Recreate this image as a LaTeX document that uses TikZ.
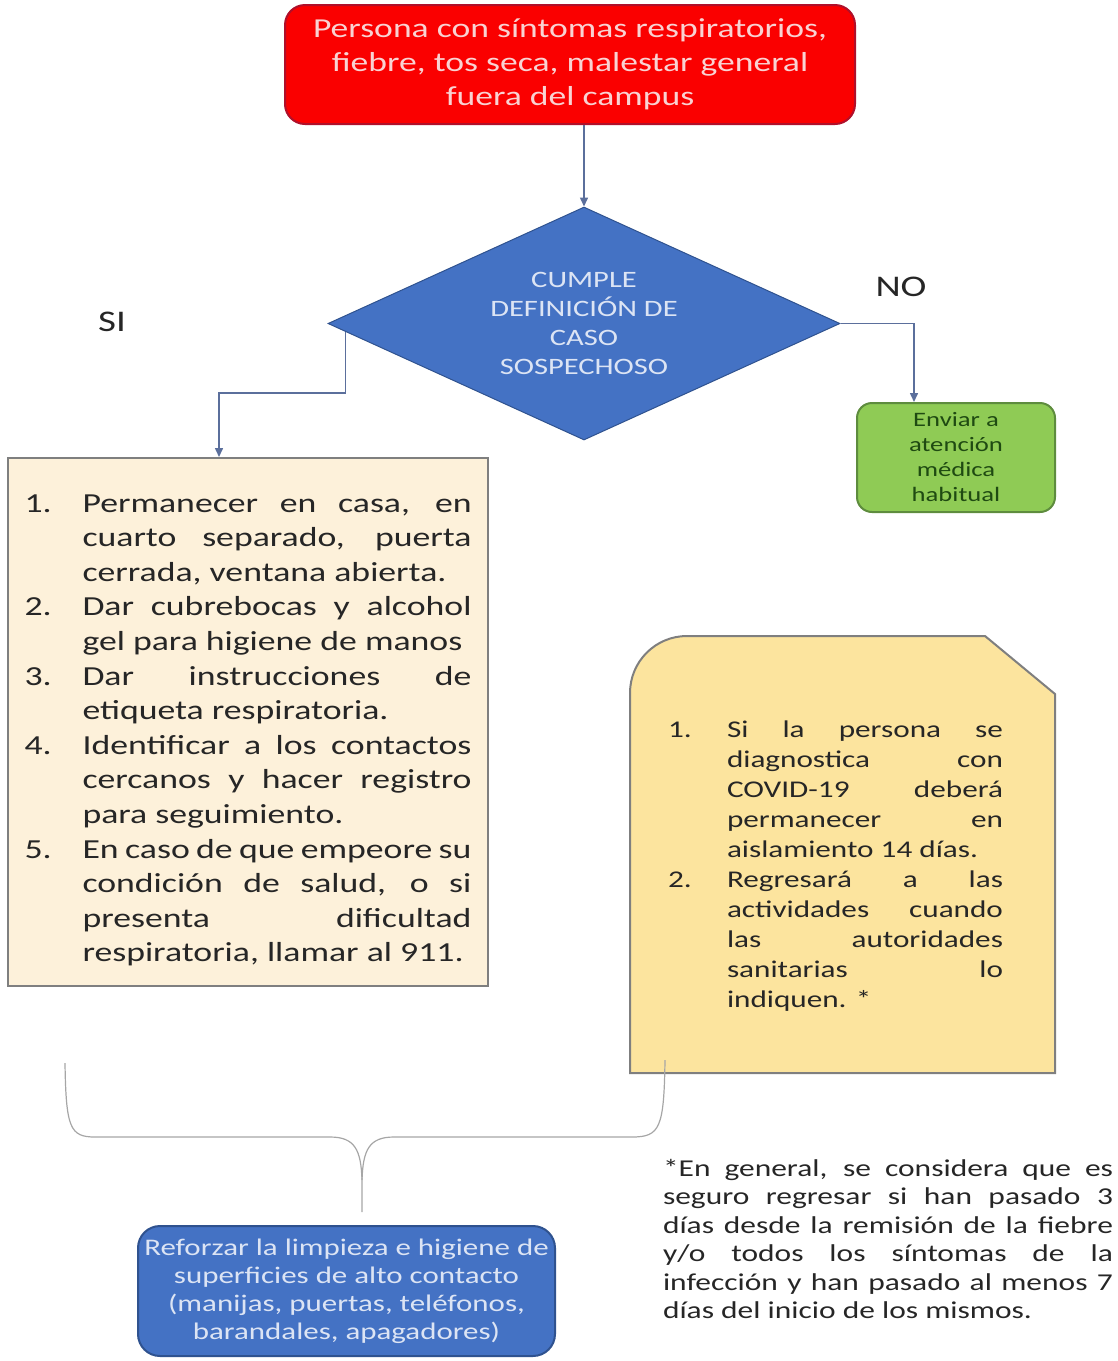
\documentclass[tikz,border=0pt]{standalone}
\usepackage{fontspec}
\setmainfont{Carlito}[FakeStretch=1.3]
\usepackage{enumitem}
\usetikzlibrary{shapes.geometric,arrows.meta,positioning}

\definecolor{rojo}{HTML}{FA0000}
\definecolor{rojoborde}{HTML}{B0102A}
\definecolor{rosa}{HTML}{F9D2D2}
\definecolor{azul}{HTML}{4472C4}
\definecolor{azulborde}{HTML}{2F528F}
\definecolor{azultexto}{HTML}{DCE4F4}
\definecolor{crema}{HTML}{FDF1DA}
\definecolor{amarillo}{HTML}{FCE49E}
\definecolor{gris}{HTML}{7F7F7F}
\definecolor{verde}{HTML}{8FCB55}
\definecolor{verdeborde}{HTML}{5E8C3E}
\definecolor{verdetexto}{HTML}{1F4A12}
\definecolor{flechagris}{HTML}{5B6F9C}
\definecolor{texto}{HTML}{262626}

\tikzset{
  flecha/.style={draw=flechagris, line width=1.5pt, ->, >={Triangle[length=9pt,width=8pt]}},
  inicio/.style={rounded corners=20pt, fill=rojo, draw=rojoborde, line width=2pt,
    text=rosa, minimum width=570pt, minimum height=119pt, align=center,
    font=\fontsize{27.4}{34}\selectfont},
  decision/.style={diamond, aspect=2.2, fill=azul, draw=azulborde, line width=1pt,
    minimum width=512pt, minimum height=233pt, inner sep=0pt, text=azultexto,
    align=center, font=\fontsize{23.5}{29}\selectfont},
  rama/.style={text=texto, font=\fontsize{30}{36}\selectfont},
  habitual/.style={rounded corners=15pt, fill=verde, draw=verdeborde, line width=2pt,
    text=verdetexto, minimum width=198pt, minimum height=109pt, align=center,
    inner sep=0pt, font=\fontsize{20.5}{25}\selectfont},
  caja/.style={rectangle, fill=crema, draw=gris, line width=2pt, text=texto,
    inner xsep=16.5pt, align=justify, font=\fontsize{27.5}{34.6}\selectfont},
  notabox/.style={fill=amarillo, draw=gris, line width=2pt},
  notatexto/.style={text=texto, inner sep=0pt, align=justify,
    font=\fontsize{24}{30}\selectfont},
  llave/.style={draw=gray!70, line width=1.2pt},
  limpieza/.style={rounded corners=22pt, fill=azul, draw=azulborde, line width=2pt,
    text=azultexto, minimum width=417pt, minimum height=130pt, align=center,
    font=\fontsize{23.8}{28}\selectfont},
  pie/.style={text=texto, inner sep=0pt, align=justify,
    font=\fontsize{24.2}{28.4}\selectfont}
}
\setlist[enumerate]{nosep, align=left, labelsep=0pt, itemindent=0pt}

\begin{document}
\begin{tikzpicture}[x=1pt,y=-1pt]
  \tolerance=10000 \hbadness=10000 \hyphenpenalty=10000
  \useasboundingbox (0,0) rectangle (1118,1361);

  % inicio y decision
  \node[inicio] (sintomas) at (570,64.5)
    {Persona con síntomas respiratorios,\\fiebre, tos seca, malestar general\\fuera del campus};
  \node[decision] (caso) at (584,323.5)
    {CUMPLE\\DEFINICIÓN DE\\CASO\\SOSPECHOSO};
  \draw[flecha] (sintomas.south -| caso.north) -- (caso.north);

  \node[rama] (si) at (112,322) {SI};
  \node[rama] (no) at (901,287) {NO};

  % rama NO
  \node[habitual] (enviar) at (956,457.5) {Enviar a\\atención\\médica\\habitual};
  \coordinate (codoNO) at (914,323.5);
  \draw[flecha] (caso.east) -- (codoNO) -- (codoNO |- enviar.north);

  % rama SI
  \node[caja, text width=447pt, minimum height=528pt] (medidas) at (248,722) {%
    \begin{enumerate}[leftmargin=58pt, labelwidth=58pt]
      \item Permanecer en casa, en\linebreak cuarto separado, puerta\linebreak cerrada, ventana abierta.
      \item Dar cubrebocas y alcohol\linebreak gel para higiene de manos
      \item Dar instrucciones de\linebreak etiqueta respiratoria.
      \item Identificar a los contactos\linebreak cercanos y hacer registro\linebreak para seguimiento.
      \item En caso de que empeore su\linebreak condición de salud, o si\linebreak presenta dificultad\linebreak respiratoria, llamar al 911.
    \end{enumerate}};
  \coordinate (codoSI) at (219,393);
  \draw[flecha] (caso.182) |- (codoSI) -- (codoSI |- medidas.north);

  % nota amarilla
  \draw[notabox] (630,1073) -- (630,693) .. controls (630,661.5) and (655.5,636) .. (687,636)
    -- (985,636) -- (1055,694) -- (1055,1073) -- cycle;
  \node[notatexto, text width=335pt] (covid) at (835.5,859) {%
    \begin{enumerate}[leftmargin=59pt, labelwidth=59pt]
      \item Si la persona se\linebreak diagnostica con\linebreak COVID-19 deberá\linebreak permanecer en\linebreak aislamiento 14 días.
      \item Regresará a las\linebreak actividades cuando\linebreak las autoridades\linebreak sanitarias lo\linebreak indiquen. *
    \end{enumerate}};

  % llave
  \draw[llave] (65,1063) .. controls (66,1128) and (70,1137) .. (95,1137) -- (330,1137)
    .. controls (355,1137) and (361,1150) .. (362,1180) -- (362,1212);
  \draw[llave] (362,1180) .. controls (363,1150) and (369,1137) .. (394,1137) -- (632,1137)
    .. controls (660,1137) and (664,1128) .. (665,1060);

  \node[limpieza] (reforzar) at (346.5,1291)
    {Reforzar la limpieza e higiene de\\superficies de alto contacto\\(manijas, puertas, teléfonos,\\barandales, apagadores)};

  \node[pie, text width=450pt] (aclaracion) at (888,1239) {%
    *En general, se considera que es\linebreak seguro regresar si han pasado 3\linebreak días desde la remisión de la fiebre\linebreak y/o todos los síntomas de la\linebreak infección y han pasado al menos 7\linebreak días del inicio de los mismos.};
\end{tikzpicture}
\end{document}
